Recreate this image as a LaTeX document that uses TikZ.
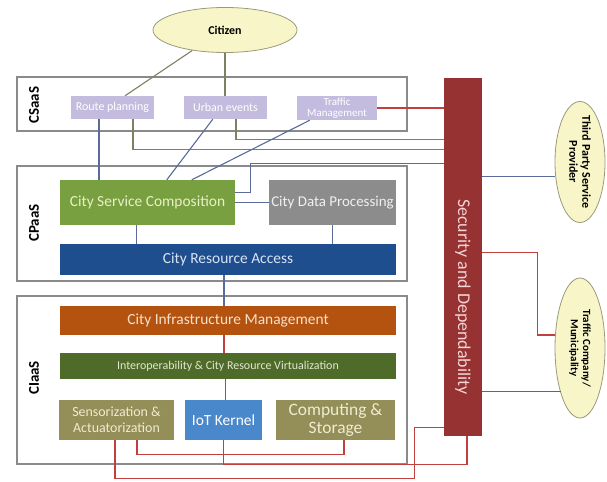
\documentclass[tikz,border=0pt]{standalone}
\usepackage{fontspec}
\setmainfont{Carlito}
\usetikzlibrary{shapes.geometric,calc}

\definecolor{ellfill}{HTML}{F8F6C8}
\definecolor{ellline}{HTML}{9A9A7A}
\definecolor{lav}{HTML}{C4BCDE}
\definecolor{cscfill}{HTML}{78A040}
\definecolor{cdpfill}{HTML}{8C8C8C}
\definecolor{crafill}{HTML}{1F4E8F}
\definecolor{cimfill}{HTML}{B4530F}
\definecolor{icrvfill}{HTML}{4F6B2A}
\definecolor{olivefill}{HTML}{948E58}
\definecolor{iotfill}{HTML}{4A88CC}
\definecolor{secfill}{HTML}{963232}
\definecolor{oliveline}{HTML}{7E8060}
\definecolor{blueline}{HTML}{5A6A9A}
\definecolor{redline}{HTML}{C0403C}
\definecolor{layerline}{HTML}{8A8A8A}

\tikzset{
  layer/.style={draw=layerline, line width=1.1bp, fill=white, inner sep=0pt},
  layerlabel/.style={rotate=90, font=\fontsize{15}{15}\selectfont\bfseries, text=black},
  svc/.style={fill=lav, text=white, inner sep=0pt, align=center},
  block/.style={inner sep=0pt, align=center},
  actor/.style={ellipse, draw=ellline, fill=ellfill, line width=0.8bp, inner sep=0pt},
  actortext/.style={rotate=-90, align=center, text=black},
  oline/.style={draw=oliveline, line width=1.1bp},
  bline/.style={draw=blueline, line width=1.1bp},
  rline/.style={draw=redline, line width=1.1bp},
}

\begin{document}
\begin{tikzpicture}[x=1bp, y=-1bp]
\useasboundingbox (0,0) rectangle (607,482);

% layer frames
\node[layer, minimum width=390bp, minimum height=54bp] (csaas) at (212,104) {};
\node[layer, minimum width=390bp, minimum height=115bp] (cpaas) at (212,223.5) {};
\node[layer, minimum width=390bp, minimum height=168bp] (ciaas) at (212,380) {};
\node[layerlabel] (lcsaas) at (34,105) {CSaaS};
\node[layerlabel] (lcpaas) at (34,223) {CPaaS};
\node[layerlabel] (lciaas) at (34,378) {CIaaS};

% actors
\node[actor, minimum width=144bp, minimum height=45bp, font=\fontsize{12}{12}\selectfont\bfseries] (citizen) at (225,30) {Citizen};
\node[actor, minimum width=50bp, minimum height=121bp] (tp) at (580,162) {};
\node[actortext, font=\fontsize{12}{13}\selectfont\bfseries] (tptext) at (tp.center) {Third Party Service\\Provider};
\node[actor, minimum width=50bp, minimum height=140bp] (tc) at (580,348) {};
\node[actortext, font=\fontsize{11}{12.5}\selectfont\bfseries] (tctext) at (tc.center) {Traffic Company/\\Municipality};

% city services
\node[svc, minimum width=83bp, minimum height=23bp, font=\fontsize{12}{12}\selectfont] (rp) at (112.5,107.5) {Route planning};
\node[svc, minimum width=83bp, minimum height=23bp, font=\fontsize{12}{12}\selectfont] (ue) at (225.5,107.5) {Urban events};
\node[svc, minimum width=80bp, minimum height=24bp, font=\fontsize{11}{10.5}\selectfont] (tm) at (337,108) {Traffic\\Management};

% platform blocks
\node[block, fill=cscfill, text={rgb,255:red,232;green,240;blue,196}, minimum width=175bp, minimum height=45bp, font=\fontsize{15.5}{16}\selectfont] (csc) at (147.5,202.5) {City Service Composition};
\node[block, fill=cdpfill, text={rgb,255:red,240;green,240;blue,240}, minimum width=127bp, minimum height=45bp, font=\fontsize{15}{16}\selectfont] (cdp) at (332.5,202.5) {City Data Processing};
\node[block, fill=crafill, text={rgb,255:red,216;green,228;blue,244}, minimum width=336bp, minimum height=31bp, font=\fontsize{15.5}{16}\selectfont] (cra) at (228,259.5) {City Resource Access};

% infrastructure blocks
\node[block, fill=cimfill, text={rgb,255:red,248;green,224;blue,200}, minimum width=336bp, minimum height=29bp, font=\fontsize{15.5}{16}\selectfont] (cim) at (228,320.5) {City Infrastructure Management};
\node[block, fill=icrvfill, text={rgb,255:red,224;green,232;blue,208}, minimum width=336bp, minimum height=26bp, font=\fontsize{12}{12}\selectfont] (icrv) at (228,366) {Interoperability \& City Resource Virtualization};
\node[block, fill=olivefill, text={rgb,255:red,240;green,236;blue,208}, minimum width=115bp, minimum height=40bp, font=\fontsize{14}{16}\selectfont] (sa) at (116.5,420) {Sensorization \&\\Actuatorization};
\node[block, fill=iotfill, text=white, minimum width=77bp, minimum height=40bp, font=\fontsize{15.5}{16}\selectfont] (iot) at (223.5,420) {IoT Kernel};
\node[block, fill=olivefill, text={rgb,255:red,240;green,236;blue,208}, minimum width=119bp, minimum height=40bp, font=\fontsize{17.5}{19}\selectfont] (cs) at (335.5,420) {Computing \&\\Storage};

% security bar
\node[fill=secfill, minimum width=38bp, minimum height=358bp, inner sep=0pt] (sec) at (463,257) {};
\node[rotate=-90, text={rgb,255:red,244;green,212;blue,212}, font=\fontsize{18}{18}\selectfont] (sectext) at (463,297) {Security and Dependability};

% anchor points on block edges
\coordinate (rpb) at ([xshift=-13.5bp]rp.south);
\coordinate (cscb) at ([xshift=77bp]csc.south west);
\coordinate (crab) at ([xshift=-4bp]cra.south);
\coordinate (cimb) at ([xshift=-4bp]cim.south);
\coordinate (icrvb) at ([xshift=-2.5bp]icrv.south);
\coordinate (csb) at ([xshift=8.5bp]cs.south);
\coordinate (sab1) at ([xshift=20.5bp]sa.south);
\coordinate (sab2) at ([xshift=-1.5bp]sa.south);
\coordinate (iotb) at (iot.south);
\coordinate (secin) at ([xshift=-29bp,yshift=9bp]sec.south west);

% citizen links
\draw[oline] (citizen.212) -- ([xshift=12.5bp]rp.north);
\draw[oline] (citizen.south) -- (citizen.south |- ue.north);

% service links to the security bar
\draw[oline] ([xshift=10.5bp]ue.south) |- ([yshift=-62bp]sec.north west);
\draw[oline] ([xshift=20.5bp]rp.south) |- ([yshift=-72bp]sec.north west);
\draw[rline] (tm.east) -- (tm.east -| sec.west);

% services down to composition
\draw[bline] (rpb) -- (rpb |- csc.north);
\draw[bline] ([xshift=29bp]ue.south west) -- ([xshift=107bp]csc.north west);
\draw[bline] ([xshift=13bp]tm.south west) -- ([xshift=132bp]csc.north west);
\draw[bline] ([yshift=-13bp]csc.north east) -- ++(15,0) |- ([yshift=-86bp]sec.north west);

% platform links
\draw[bline] (csc.east) -- (cdp.west);
\draw[bline] (cscb) -- (cscb |- cra.north);
\draw[bline] (cdp.south) -- (cdp.south |- cra.north);
\draw[bline] (crab) -- (crab |- cim.north);

% infrastructure links
\draw[rline] (cimb) -- (cimb |- icrv.north);
\draw[rline] (icrvb) -- (icrvb |- cs.north);
\draw[rline] (sab1) -- ++(0,14) -| (csb);
\draw[rline] (iotb) -- ++(0,24) -| ([xshift=4bp]sec.south);
\draw[rline] (sab2) -- ++(0,38) -| (secin) -- (secin -| sec.west);

% external stakeholders
\draw[bline] ([yshift=-99bp]sec.north east) -- ([yshift=-99bp]sec.north east -| tp.west);
\draw[rline] ([yshift=-175bp]sec.north east) -- ++(55,0) |- ([yshift=13bp]tc.west);
\draw[rline] ([yshift=-314bp]sec.north east) -- ++(79,0);
\end{tikzpicture}
\end{document}
